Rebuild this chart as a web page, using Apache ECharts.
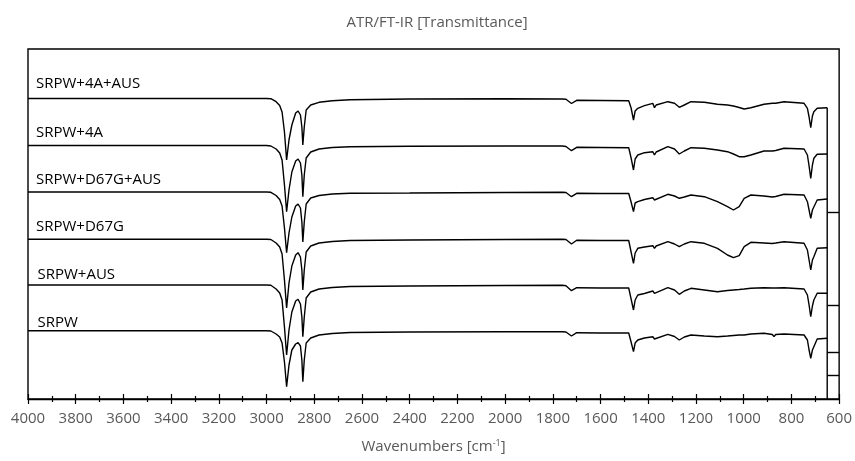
<!DOCTYPE html>
<html><head><meta charset="utf-8">
<script src="https://cdn.jsdelivr.net/npm/echarts@6/dist/echarts.min.js"></script>
<style>html,body{margin:0;padding:0;background:#fff}#c{width:855px;height:461px}</style>
</head><body><div id="c"></div>
<script>
// Wavenumber sample points (cm-1), shared by all spectra
const wavenumbers = [4000, 3500, 3000, 2982, 2960, 2945, 2935, 2925, 2916, 2906, 2894, 2878, 2868, 2858, 2852, 2848, 2842, 2834, 2815, 2780, 2725, 2650, 2400, 2000, 1760, 1745, 1722, 1700, 1600, 1482, 1472, 1462, 1455, 1444, 1416, 1381, 1374, 1367, 1318, 1290, 1270, 1249, 1221, 1165, 1110, 1068, 1043, 1019, 998, 970, 915, 880, 873, 866, 831, 747, 733, 726, 719, 712, 706, 692, 650];

const seriesNames = ['SRPW+4A+AUS', 'SRPW+4A', 'SRPW+D67G+AUS', 'SRPW+D67G', 'SRPW+AUS', 'SRPW'];

// Offset transmittance (arbitrary units)
const t_4A_AUS = [300.5, 300.5, 300.5, 300.3, 297.3, 293.5, 287, 267, 239, 259, 274, 286, 288, 284, 272, 254, 272, 289, 294, 296.7, 298.3, 299.3, 300, 300.2, 300, 299.7, 295.5, 298.7, 298.5, 298.3, 291, 279, 288, 290.7, 293.3, 295.7, 291.3, 294, 297.3, 295.7, 291.7, 294, 297.3, 296.7, 294.7, 294, 293, 291.5, 290, 291.3, 294.7, 295.7, 294, 295.7, 297.3, 295.7, 290.7, 282, 271.3, 283, 287.3, 290.7, 291.3];
const t_4A = [253.5, 253.5, 253.5, 253, 250, 246, 239, 214, 187.3, 209, 227, 238, 240, 236, 224, 202.3, 224, 241, 247, 250, 251.5, 252.3, 252.7, 253, 253, 252.5, 248.3, 251.7, 251.5, 251.3, 241, 229, 240, 244, 246.3, 247.3, 244, 247, 252.3, 250, 245, 248, 251.3, 250.7, 249, 247.3, 245, 242.3, 242.3, 244, 248, 248, 246.5, 248.5, 250.7, 250, 244, 233, 220.7, 234, 240.7, 244.7, 245];
const t_D67G_AUS = [207, 207, 207, 206.7, 203.5, 199.5, 193, 171, 146.3, 166, 182, 193, 195, 191, 177, 157, 177, 195, 201, 203.5, 205, 205.7, 206, 206.5, 206.7, 206.5, 202.3, 205.7, 205.5, 205.5, 197, 187.3, 196, 197.3, 199.5, 201.3, 199, 201, 204.7, 203, 200.7, 202, 204, 202.3, 197.3, 192.3, 189, 192.3, 200.7, 204, 203, 202, 200.7, 202.5, 204.7, 204, 197.3, 189, 180.7, 189, 190.7, 199, 200];
const t_D67G = [159.7, 159.7, 159.7, 159.5, 156, 152, 145, 119, 91, 116, 133, 144, 146.3, 142, 129, 109, 129, 147, 153, 156, 157.5, 158.5, 159, 159.5, 159.7, 159.5, 155, 158.7, 158.5, 158.5, 147, 135.7, 146, 150.7, 152, 153.3, 150.7, 153, 157.3, 155, 152.3, 155, 157.3, 155.7, 150.7, 144, 141.3, 143.3, 152.3, 156.7, 156, 155.5, 154.7, 156, 157.3, 155.7, 149, 139, 129, 139, 142.3, 150.7, 151.3];
const t_AUS = [114, 114, 114, 113.7, 110, 106, 99, 72, 44, 69, 87, 98, 99.7, 95, 82, 62.3, 82, 101, 107, 110, 111.5, 112.5, 113, 113.5, 113.7, 113.3, 108.3, 111.3, 111, 111, 100, 89, 99, 104, 105.5, 108, 105.7, 107.5, 111.3, 109, 104.7, 108, 110.7, 109, 107.3, 108.5, 109, 109.5, 110, 110.7, 111.3, 111, 109, 111, 111.3, 110, 104, 94, 82.3, 93, 99, 105.7, 105.7];
const t_SRPW = [68.3, 68.3, 68.3, 68, 65, 62, 56, 37, 12.3, 34, 49, 55, 56.3, 53, 39, 17.3, 39, 56, 61, 64, 65.5, 66.5, 67, 67.3, 67.3, 67, 63, 66.3, 66, 66, 57, 47.3, 56, 59, 61, 62.3, 60, 62, 64.7, 62.5, 59, 62, 64, 63, 62.3, 63, 63.5, 64, 64, 65, 65.7, 64.5, 62.3, 64.5, 65, 64, 59, 49, 40.7, 49, 52.3, 60, 60.7];

const spectra = [t_4A_AUS, t_4A, t_D67G_AUS, t_D67G, t_AUS, t_SRPW];

// Short horizontal marks on the right-hand vertical line
const rightMarks = [186.7, 94, 46.7, 23.5];

// Axis range and tick labels
const xMin = 600, xMax = 4000, xStep = 200;
const yMin = 0, yMax = 350;

const FONT = "'Open Sans', sans-serif";
const GRAY = '#595959';
const labelOffsets = [[8, -14.5], [8, -12.5], [8, -12], [8, -13], [9.5, -10], [9.5, -8]];

const chart = echarts.init(document.getElementById('c'), null, {renderer: 'canvas'});

const xAxisBase = {
  type: 'value', min: xMin, max: xMax, interval: xStep, inverse: true,
  position: 'bottom', splitLine: {show: false}, gridIndex: 0
};

const series = spectra.map((vals, i) => ({
  name: seriesNames[i], type: 'line', xAxisIndex: 0, yAxisIndex: 0,
  showSymbol: false, symbol: 'none', silent: true, animation: false,
  lineStyle: {color: '#000', width: 1.4},
  data: wavenumbers.map((w, k) => [w, vals[k]])
}));

const lastIdx = wavenumbers.length - 1;
series.push({
  type: 'line', showSymbol: false, symbol: 'none', silent: true, animation: false,
  lineStyle: {color: '#000', width: 1.4},
  data: [[wavenumbers[lastIdx], spectra[0][lastIdx]], [wavenumbers[lastIdx], yMin]],
  markLine: {
    silent: true, symbol: 'none', animation: false,
    label: {show: false},
    lineStyle: {color: '#000', width: 1.4, type: 'solid'},
    data: rightMarks.map(t => [{coord: [wavenumbers[lastIdx], t]}, {coord: [xMin, t]}])
  }
});

chart.setOption({
  animation: false,
  textStyle: {fontFamily: FONT},
  grid: {left: 28, right: 13, top: 49, bottom: 62, show: true, borderColor: '#000', borderWidth: 1.4, backgroundColor: 'transparent'},
  xAxis: [
    Object.assign({}, xAxisBase, {
      axisLine: {show: true, lineStyle: {color: '#000', width: 1.4}},
      axisTick: {show: true, inside: false, length: 5, lineStyle: {color: '#000', width: 1.2}},
      minorTick: {show: true, splitNumber: 2, length: 3, lineStyle: {color: '#000', width: 1.2}},
      axisLabel: {show: true, color: GRAY, fontSize: 15, fontFamily: FONT, margin: 12, formatter: v => String(v)},
      name: 'Wavenumbers [cm{sup|-1}]', nameLocation: 'middle', nameGap: 40,
      nameTextStyle: {color: GRAY, fontSize: 15, fontFamily: FONT,
        rich: {sup: {fontSize: 9, color: GRAY, fontFamily: FONT, verticalAlign: 'top', padding: [0, 0, 7, 0]}}}
    }),
    Object.assign({}, xAxisBase, {
      axisLine: {show: false},
      axisTick: {show: true, inside: true, length: 5, lineStyle: {color: '#000', width: 1.2}},
      minorTick: {show: true, splitNumber: 2, length: 3, lineStyle: {color: '#000', width: 1.2}},
      axisLabel: {show: false}
    })
  ],
  yAxis: {type: 'value', min: yMin, max: yMax, axisLine: {show: false}, axisTick: {show: false}, axisLabel: {show: false}, splitLine: {show: false}},
  series: series
});

// Title and spectrum labels
const graphics = [{
  type: 'text', x: 437, y: 23, silent: true,
  style: {text: 'ATR/FT-IR [Transmittance]', fill: GRAY, font: "15px 'Open Sans', sans-serif", align: 'center', verticalAlign: 'middle'}
}];
spectra.forEach((vals, i) => {
  const p = chart.convertToPixel({gridIndex: 0}, [wavenumbers[0], vals[0]]);
  graphics.push({
    type: 'text', x: p[0] + labelOffsets[i][0], y: p[1] + labelOffsets[i][1], silent: true, z: 10,
    style: {text: seriesNames[i], fill: '#000', font: "15px 'Open Sans', sans-serif", align: 'left', verticalAlign: 'middle'}
  });
});
chart.setOption({graphic: graphics});
</script></body></html>
